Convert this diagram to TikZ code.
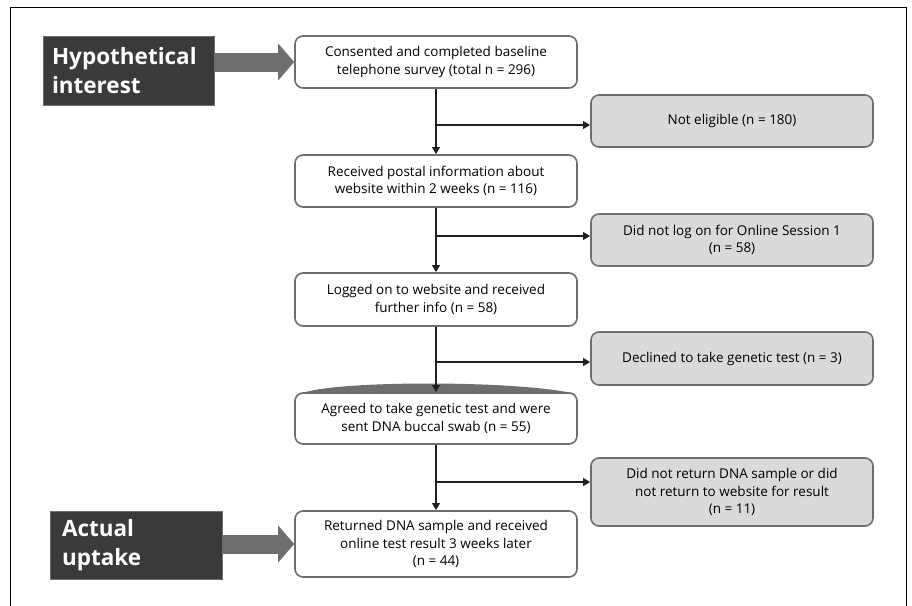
\documentclass[tikz,border=0pt]{standalone}
\usepackage{fontspec}
\setmainfont{Open Sans}
\usetikzlibrary{arrows.meta}
\definecolor{boxgray}{HTML}{6D6E70}
\definecolor{sidegray}{HTML}{D9DADB}
\definecolor{darkbox}{HTML}{3A3A3A}
\definecolor{linecol}{HTML}{231F20}
\begin{document}
\begin{tikzpicture}[x=1pt, y=-1pt,
    mainbox/.style={draw=boxgray, line width=1.6pt, rounded corners=8pt, fill=white, minimum width=282pt, align=center, inner sep=0pt, font=\fontsize{13.5}{17.5}\selectfont},
    sidebox/.style={mainbox, fill=sidegray},
    stagebox/.style={draw=boxgray, line width=1pt, fill=darkbox, text=white, align=left, inner ysep=0pt, font=\bfseries\fontsize{22.5}{29}\selectfont},
    flow/.style={draw=linecol, line width=1.9pt, -{Triangle[length=7pt, width=7.5pt]}},
    bigarrow/.style={draw=boxgray, line width=19pt, -{Triangle[length=16pt, width=36pt]}}]
    \useasboundingbox (0,0) rectangle (912,605);
    \draw[line width=1pt] (10,606) -- (10,7) -- (906,7) -- (906,606);
    \fill[boxgray] (300,394) .. controls (330,380) and (520,380) .. (576,394) -- cycle;
    % stages
    \node[stagebox, inner xsep=9pt, text width=153pt, minimum height=69pt] (hyp) at (128.5,70.5) {Hypothetical\\interest};
    \node[stagebox, inner xsep=12pt, text width=148pt, minimum height=68pt] (upt) at (136,545) {Actual\\uptake};
    % main column
    \node[mainbox, minimum height=52pt] (survey)   at (436,62)    {Consented and completed baseline\\telephone survey (total n = 296)};
    \node[mainbox, minimum height=52pt] (postal)   at (436,181)   {Received postal information about\\website within 2 weeks (n = 116)};
    \node[mainbox, minimum height=53pt] (logged)   at (436,299.5) {Logged on to website and received\\further info (n = 58)};
    \node[mainbox, minimum height=51pt] (agreed)   at (436,418.5) {Agreed to take genetic test and were\\sent DNA buccal swab (n = 55)};
    \node[mainbox, minimum height=66pt] (returned) at (436,544)   {Returned DNA sample and received\\online test result 3 weeks later\\(n = 44)};
    % drop-outs
    \node[sidebox, minimum height=52pt] (notelig)  at (732,121)   {Not eligible (n = 180)};
    \node[sidebox, minimum height=52pt] (nolog)    at (732,240)   {Did not log on for Online Session 1\\(n = 58)};
    \node[sidebox, minimum height=53pt] (declined) at (732,358.5) {Declined to take genetic test (n = 3)};
    \node[sidebox, minimum height=68pt] (noreturn) at (732,492)   {Did not return DNA sample or did\\not return to website for result\\(n = 11)};
    \draw[bigarrow] (hyp.east |- survey.west) -- (survey.west);
    \draw[bigarrow] (upt.east |- returned.west) -- (returned.west);
    \foreach \a/\b in {survey/postal, postal/logged, logged/agreed, agreed/returned}
        \draw[flow] (\a) -- (\b);
    \foreach \y/\side in {125/notelig, 236/nolog, 362/declined, 482/noreturn} {
        \coordinate (br\side) at (survey.south |- 0,\y);
        \draw[flow] (br\side) -- (br\side -| \side.west);
    }
\end{tikzpicture}
\end{document}
